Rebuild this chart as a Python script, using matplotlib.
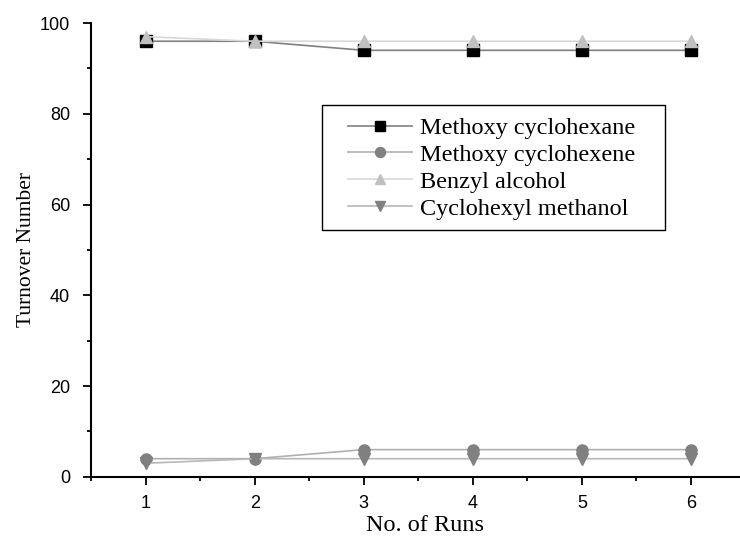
import matplotlib
matplotlib.use("Agg")
import matplotlib.pyplot as plt
from matplotlib.patches import Rectangle
from matplotlib.ticker import MultipleLocator

# data
runs = [1, 2, 3, 4, 5, 6]
methoxy_cyclohexane = [96, 96, 94, 94, 94, 94]
methoxy_cyclohexene = [4, 4, 6, 6, 6, 6]
benzyl_alcohol = [97, 96, 96, 96, 96, 96]
cyclohexyl_methanol = [3, 4, 4, 4, 4, 4]

SERIES = [
    ("Methoxy cyclohexane", methoxy_cyclohexane, "s", "#000000", "#808080"),
    ("Methoxy cyclohexene", methoxy_cyclohexene, "o", "#808080", "#b0b0b0"),
    ("Benzyl alcohol", benzyl_alcohol, "^", "#c0c0c0", "#d8d8d8"),
    ("Cyclohexyl methanol", cyclohexyl_methanol, "v", "#808080", "#b8b8b8"),
]

W, H = 740, 537
fig = plt.figure(figsize=(W / 100, H / 100), dpi=100)
ax = fig.add_axes([0.123, 0.112, 0.877, 0.845])

for label, vals, marker, mcolor, lcolor in SERIES:
    ax.plot(runs, vals, color=lcolor, linewidth=1.2, marker=marker,
            markersize=8, markerfacecolor=mcolor, markeredgecolor=mcolor,
            label=label)

ax.set_xlim(0.5, 6.45)
ax.set_ylim(0, 100)
ax.xaxis.set_major_locator(MultipleLocator(1))
ax.xaxis.set_minor_locator(MultipleLocator(0.5))
ax.yaxis.set_major_locator(MultipleLocator(20))
ax.yaxis.set_minor_locator(MultipleLocator(10))

for side in ("top", "right"):
    ax.spines[side].set_visible(False)
for side in ("left", "bottom"):
    ax.spines[side].set_linewidth(1.5)

ax.tick_params(which="major", direction="out", length=6, width=1.3,
               labelsize=13)
ax.tick_params(axis="y", which="major", pad=9)
ax.tick_params(axis="x", which="major", pad=7)
ax.tick_params(which="minor", direction="out", length=3, width=1.3)
for t in ax.get_xticklabels() + ax.get_yticklabels():
    t.set_fontfamily("Liberation Sans")

ax.set_xlabel("No. of Runs", family="Liberation Serif", fontsize=17.5)
ax.set_ylabel("Turnover Number", family="Liberation Serif", fontsize=15.5)
ax.xaxis.set_label_coords(0.515, -0.084)
ax.yaxis.set_label_coords(-0.085, 0.5)

# legend entries without frame, box drawn separately (wider side padding)
leg = ax.legend(loc="upper left", bbox_to_anchor=(348 / W, 1 - 117 / H),
                bbox_transform=fig.transFigure, borderaxespad=0,
                prop={"family": "Liberation Serif", "size": 17.5},
                frameon=False, handlelength=2.63, handletextpad=0.33,
                borderpad=0, labelspacing=0.2, markerscale=0.9)
fig.add_artist(Rectangle((322 / W, 1 - 230 / H), 343 / W, 125 / H,
                         transform=fig.transFigure, fill=False,
                         edgecolor="#000000", linewidth=1.0))

fig.savefig("out.png", dpi=100)
